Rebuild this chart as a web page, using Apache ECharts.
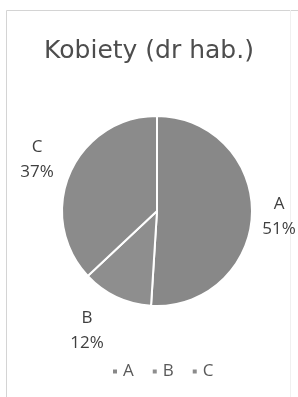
<!DOCTYPE html>
<html>
<head>
<meta charset="utf-8">
<script src="https://cdn.jsdelivr.net/npm/echarts@6/dist/echarts.min.js"></script>
<style>
  html, body { margin: 0; padding: 0; background: #fff; }
  #chart { width: 298px; height: 397px; }
</style>
</head>
<body>
<div id="chart"></div>
<script>
const categories = ['A', 'B', 'C']
const shares = [51, 12, 37]
const sliceColors = ['#888888', '#8e8e8e', '#8b8b8b']

// label centres, picked to sit where Excel put them
const labelSpots = [[279, 217], [87, 331], [37, 160]]

const chart = echarts.init(document.getElementById('chart'))

const option = {
  backgroundColor: '#fff',
  animation: false,
  title: {
    text: 'Kobiety (dr hab.)',
    left: 'center',
    top: 34,
    textStyle: {
      fontFamily: 'DejaVu Sans',
      fontSize: 25,
      fontWeight: 'normal',
      color: '#4d4d4d'
    }
  },
  legend: {
    top: 358,
    left: 106,
    icon: 'rect',
    itemWidth: 6,
    itemHeight: 6,
    itemGap: 17,
    data: categories,
    textStyle: {
      fontFamily: 'Open Sans',
      fontSize: 17,
      color: '#595959'
    }
  },
  graphic: [
    {
      type: 'polyline',
      shape: { points: [[6.5, 420], [6.5, 10.5], [298, 10.5]] },
      style: { fill: null, stroke: '#d4d4d4', lineWidth: 1 },
      silent: true
    },
    {
      type: 'line',
      shape: { x1: 290.5, y1: 10, x2: 290.5, y2: 397 },
      style: { stroke: '#f0f0f0', lineWidth: 1 },
      silent: true
    }
  ],
  series: [
    {
      type: 'pie',
      center: [157, 211],
      radius: 95,
      startAngle: 90,
      clockwise: true,
      data: categories.map((name, i) => ({
        name: name,
        value: shares[i],
        itemStyle: { color: sliceColors[i] }
      })),
      itemStyle: {
        borderColor: '#ffffff',
        borderWidth: 2
      },
      label: {
        show: true,
        position: 'inside',
        overflow: 'none',
        formatter: '{b}\n{d}%',
        fontFamily: 'Open Sans',
        fontSize: 17,
        lineHeight: 25,
        color: '#404040',
        align: 'center'
      },
      labelLine: { show: false },
      labelLayout: (params) => ({
        x: labelSpots[params.dataIndex][0],
        y: labelSpots[params.dataIndex][1],
        align: 'center',
        verticalAlign: 'middle'
      }),
      emphasis: { disabled: true }
    }
  ]
}

chart.setOption(option)
</script>
</body>
</html>
